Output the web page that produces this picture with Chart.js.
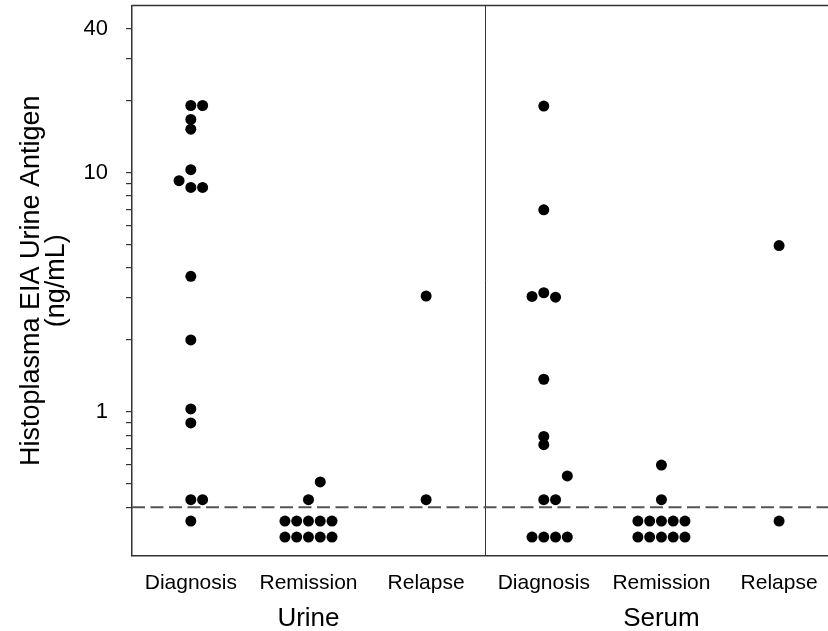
<!DOCTYPE html>
<html>
<head>
<meta charset="utf-8">
<script src="https://cdn.jsdelivr.net/npm/chart.js@4.4.1/dist/chart.umd.min.js"></script>
<style>
  html, body { margin: 0; padding: 0; background: #fff; overflow: hidden; }
  canvas { display: block; }
</style>
</head>
<body>
<!-- a bit wider than the window: the plot frame runs off the right edge like the original -->
<canvas id="chart" width="834" height="631"></canvas>
<script>
// categories along the x axis, and the two specimen groups
const categories = ['Diagnosis', 'Remission', 'Relapse', 'Diagnosis', 'Remission', 'Relapse'];
const groups = ['Urine', 'Serum'];

// antigen values (ng/mL), one array per column
const urineDiagnosis = [19.1, 19.1, 16.7, 15.2, 10.3, 9.26, 8.68, 8.68, 3.69, 2.0, 1.03, 0.90, 0.43, 0.43, 0.35];
const urineRemission = [0.51, 0.43, 0.35, 0.35, 0.35, 0.35, 0.35, 0.30, 0.30, 0.30, 0.30, 0.30];
const urineRelapse = [3.05, 0.43];
const serumDiagnosis = [19.0, 7.0, 3.15, 3.04, 3.02, 1.37, 0.79, 0.73, 0.54, 0.43, 0.43, 0.30, 0.30, 0.30, 0.30];
const serumRemission = [0.60, 0.43, 0.35, 0.35, 0.35, 0.35, 0.35, 0.30, 0.30, 0.30, 0.30, 0.30];
const serumRelapse = [4.96, 0.35];

// side-by-side slot of each dot within its column (dot plot stacking)
const urineDiagnosisSlot = [0, 1, 0, 0, 0, -1, 0, 1, 0, 0, 0, 0, 0, 1, 0];
const urineRemissionSlot = [1, 0, -2, -1, 0, 1, 2, -2, -1, 0, 1, 2];
const urineRelapseSlot = [0, 0];
const serumDiagnosisSlot = [0, 0, 0, -1, 1, 0, 0, 0, 2, 0, 1, -1, 0, 1, 2];
const serumRemissionSlot = [0, 0, -2, -1, 0, 1, 2, -2, -1, 0, 1, 2];
const serumRelapseSlot = [0, 0];

// y axis ticks
const yTicks = [0.4, 0.5, 0.6, 0.7, 0.8, 0.9, 1, 2, 3, 4, 5, 6, 7, 8, 9, 10, 20, 30, 40];
const yTickLabels = [1, 10, 40];
const cutoff = 0.4;

const columns = [
  [urineDiagnosis, urineDiagnosisSlot],
  [urineRemission, urineRemissionSlot],
  [urineRelapse, urineRelapseSlot],
  [serumDiagnosis, serumDiagnosisSlot],
  [serumRemission, serumRemissionSlot],
  [serumRelapse, serumRelapseSlot]
];

const slotStep = 0.1;

const datasets = columns.map(([vals, slots], i) => ({
  label: categories[i],
  data: vals.map((v, k) => ({ x: i + slots[k] * slotStep, y: v })),
  backgroundColor: '#000',
  borderWidth: 0,
  pointRadius: 5.5,
  pointHoverRadius: 5.5
}));

// no edge padding for labels
const noPad = s => {
  s.paddingTop = 0;
  s.paddingBottom = 0;
  s.paddingLeft = 0;
  s.paddingRight = 0;
};

const decorations = {
  id: 'decorations',
  beforeDatasetsDraw(chart) {
    const { ctx, chartArea, scales } = chart;
    ctx.save();
    // top frame line
    ctx.strokeStyle = '#333';
    ctx.lineWidth = 1.5;
    ctx.beginPath();
    ctx.moveTo(chartArea.left, chartArea.top);
    ctx.lineTo(chartArea.right, chartArea.top);
    ctx.stroke();
    // divider between urine and serum
    const xd = Math.round(scales.x.getPixelForValue(2.5)) + 0.5;
    ctx.lineWidth = 1;
    ctx.beginPath();
    ctx.moveTo(xd, chartArea.top);
    ctx.lineTo(xd, chartArea.bottom);
    ctx.stroke();
    // detection cutoff
    const yc = scales.y.getPixelForValue(cutoff);
    ctx.strokeStyle = '#555';
    ctx.lineWidth = 2;
    ctx.setLineDash([13, 5.5]);
    ctx.beginPath();
    ctx.moveTo(chartArea.left, yc);
    ctx.lineTo(chartArea.right, yc);
    ctx.stroke();
    ctx.restore();
  }
};

new Chart(document.getElementById('chart'), {
  type: 'scatter',
  data: { datasets },
  plugins: [decorations],
  options: {
    responsive: false,
    animation: false,
    layout: { padding: { top: 5, right: 0, left: 0, bottom: 0 } },
    plugins: { legend: { display: false }, tooltip: { enabled: false } },
    scales: {
      x: {
        type: 'linear',
        min: -0.5,
        max: 5.42,
        afterBuildTicks: s => { s.ticks = categories.map((c, i) => ({ value: i })); },
        afterFit: s => { s.height = 43; noPad(s); },
        ticks: {
          autoSkip: false,
          maxRotation: 0,
          padding: 7,
          color: '#000',
          font: { family: 'Liberation Sans, Arial', size: 21 },
          callback: v => categories[v]
        },
        grid: { display: false },
        border: { display: true, color: '#333', width: 1.5 }
      },
      x2: {
        type: 'linear',
        position: 'bottom',
        min: -0.5,
        max: 5.42,
        afterBuildTicks: s => { s.ticks = [{ value: 1 }, { value: 4 }]; },
        afterFit: s => { s.height = 32; noPad(s); },
        ticks: {
          autoSkip: false,
          maxRotation: 0,
          padding: -4,
          color: '#000',
          font: { family: 'Liberation Sans, Arial', size: 26 },
          callback: v => groups[v === 1 ? 0 : 1]
        },
        grid: { display: false },
        border: { display: false }
      },
      y: {
        type: 'logarithmic',
        min: 0.25,
        max: 50,
        afterBuildTicks: s => { s.ticks = yTicks.map(v => ({ value: v })); },
        afterFit: s => { s.width = 132; noPad(s); },
        ticks: {
          autoSkip: false,
          padding: 18,
          color: '#000',
          font: { family: 'Liberation Sans, Arial', size: 22 },
          callback: v => yTickLabels.includes(v) ? String(v) : ''
        },
        grid: { drawOnChartArea: false, drawTicks: true, tickLength: 6, color: '#333', lineWidth: 1.2 },
        border: { display: true, color: '#333', width: 1.5 },
        title: {
          display: true,
          text: ['Histoplasma EIA Urine Antigen', '(ng/mL)'],
          color: '#000',
          font: { family: 'Liberation Sans, Arial', size: 27, lineHeight: 0.93 },
          padding: { top: 19, bottom: 0 }
        }
      }
    }
  }
});
</script>
</body>
</html>
